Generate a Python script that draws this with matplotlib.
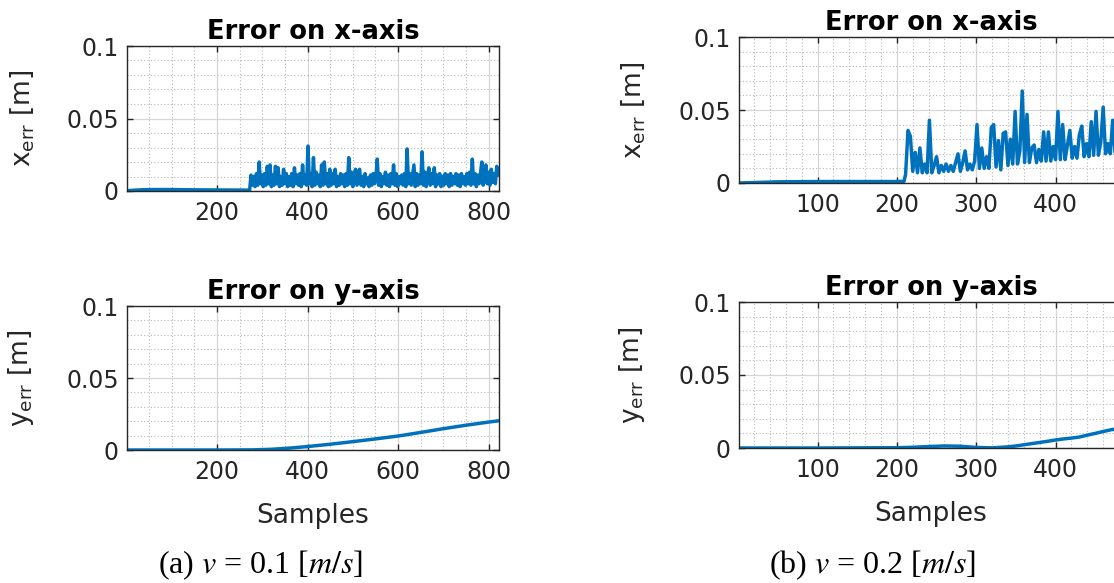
import numpy as np
import matplotlib
matplotlib.use("Agg")
import matplotlib.pyplot as plt
from matplotlib.ticker import MultipleLocator, FixedLocator

# ---------------- data ----------------
# (a) v = 0.1 m/s, 823 samples
a_pre_samples = [1, 30, 60, 100, 150, 200, 250, 272]
a_pre_xerr = [0.0002, 0.0008, 0.0010, 0.0010, 0.0008, 0.0007, 0.0006, 0.0006]
a_noise_start, a_noise_step = 275, 3
a_noise_xerr = [
    0.011, 0.004, 0.010, 0.003, 0.012, 0.004, 0.020, 0.005, 0.011, 0.003,
    0.012, 0.004, 0.017, 0.005, 0.018, 0.003, 0.011, 0.004, 0.017, 0.005,
    0.016, 0.003, 0.010, 0.004, 0.015, 0.005, 0.012, 0.003, 0.010, 0.004,
    0.012, 0.003, 0.016, 0.005, 0.011, 0.004, 0.012, 0.003, 0.018, 0.005,
    0.011, 0.004, 0.031, 0.005, 0.012, 0.003, 0.023, 0.004, 0.013, 0.005,
    0.011, 0.003, 0.018, 0.004, 0.020, 0.005, 0.012, 0.003, 0.015, 0.004,
    0.012, 0.005, 0.015, 0.003, 0.010, 0.004, 0.012, 0.005, 0.011, 0.003,
    0.012, 0.004, 0.023, 0.005, 0.013, 0.003, 0.011, 0.015, 0.004, 0.012,
    0.015, 0.004, 0.010, 0.003, 0.012, 0.005, 0.009, 0.003, 0.011, 0.004,
    0.012, 0.005, 0.010, 0.022, 0.004, 0.012, 0.003, 0.010, 0.005, 0.013,
    0.004, 0.011, 0.003, 0.012, 0.005, 0.018, 0.004, 0.012, 0.003, 0.010,
    0.005, 0.011, 0.004, 0.012, 0.003, 0.029, 0.005, 0.012, 0.004, 0.011,
    0.018, 0.003, 0.012, 0.004, 0.011, 0.005, 0.027, 0.004, 0.013, 0.003,
    0.011, 0.016, 0.004, 0.012, 0.005, 0.016, 0.003, 0.011, 0.005, 0.012,
    0.003, 0.010, 0.004, 0.012, 0.005, 0.011, 0.003, 0.012, 0.004, 0.010,
    0.005, 0.012, 0.004, 0.011, 0.003, 0.012, 0.005, 0.010, 0.004, 0.012,
    0.005, 0.013, 0.004, 0.022, 0.005, 0.012, 0.003, 0.011, 0.005, 0.012,
    0.020, 0.004, 0.012, 0.018, 0.005, 0.013, 0.004, 0.015, 0.006, 0.012,
    0.005, 0.017, 0.011,
]
a_yerr_samples = [1, 100, 200, 280, 320, 360, 400, 450, 500, 550, 600, 650, 700, 750, 800, 823]
a_yerr = [0.0, 0.0, 0.0, 0.0001, 0.0005, 0.0013, 0.0024, 0.0040, 0.0058, 0.0077,
          0.0097, 0.0122, 0.0148, 0.0172, 0.0194, 0.0203]
a_nsamples = 823

# (b) v = 0.2 m/s
b_pre_samples = [1, 20, 50, 100, 150, 200, 209]
b_pre_xerr = [0.0, 0.0003, 0.0008, 0.0010, 0.0010, 0.0010, 0.0012]
b_noise_start, b_noise_step = 211, 3
b_noise_xerr = [
    0.006, 0.036, 0.032, 0.008, 0.021, 0.007, 0.024, 0.007, 0.013, 0.007,
    0.043, 0.007, 0.012, 0.018, 0.007, 0.012, 0.008, 0.013, 0.008, 0.012,
    0.008, 0.014, 0.020, 0.008, 0.014, 0.022, 0.009, 0.013, 0.009, 0.015,
    0.040, 0.010, 0.024, 0.010, 0.018, 0.010, 0.038, 0.040, 0.011, 0.029,
    0.009, 0.034, 0.035, 0.012, 0.030, 0.013, 0.049, 0.013, 0.022, 0.063,
    0.014, 0.047, 0.014, 0.024, 0.026, 0.014, 0.023, 0.015, 0.035, 0.015,
    0.035, 0.015, 0.025, 0.016, 0.049, 0.016, 0.040, 0.016, 0.026, 0.036,
    0.017, 0.025, 0.017, 0.033, 0.039, 0.018, 0.027, 0.018, 0.042, 0.019,
    0.049, 0.019, 0.028, 0.052, 0.020, 0.027, 0.020, 0.043, 0.021, 0.035,
    0.021, 0.028, 0.022,
]
b_yerr_samples = [1, 100, 200, 220, 240, 260, 280, 300, 320, 340, 350, 360, 370, 380,
                  390, 400, 410, 420, 430, 440, 450, 460, 470, 480, 487]
b_yerr = [0.0, 0.0, 0.0002, 0.0005, 0.0010, 0.0014, 0.0012, 0.0004, 0.0001, 0.0008,
          0.0014, 0.0022, 0.0030, 0.0038, 0.0046, 0.0055, 0.0062, 0.0068, 0.0075,
          0.0088, 0.0100, 0.0113, 0.0125, 0.0133, 0.0140]
b_nsamples = 485

titles = ["Error on x-axis", "Error on y-axis"]
ylabels = [r"$\mathregular{x_{err}}$ [m]", r"$\mathregular{y_{err}}$ [m]"]
yticks = [0, 0.05, 0.1]
ytick_labels = ["0", "0.05", "0.1"]
a_xticks = [200, 400, 600, 800]
b_xticks = [100, 200, 300, 400, 500]
captions = [r"(a) $v$ = 0.1 [$m/s$]", r"(b) $v$ = 0.2 [$m/s$]"]

# ---------------- figure ----------------
W, H = 1114, 583
fig = plt.figure(figsize=(W / 100, H / 100), dpi=100)
plt.rcParams['font.family'] = ['DejaVu Sans']

LINE = '#0072BD'
EDGE = '#262626'
LW = 2.5


def px_axes(l, t, r, b):
    return fig.add_axes([l / W, 1 - b / H, (r - l) / W, (b - t) / H])


def build_x(pre_s, pre_v, start, step, vals):
    xs = list(pre_s) + [start + step * i for i in range(len(vals))]
    ys = list(pre_v) + list(vals)
    return np.array(xs), np.array(ys)


def style(ax, xmax, xticks, minor_x, title, ylabel, xlabel, label_x):
    ax.set_xlim(1, xmax)
    ax.set_ylim(0, 0.1)
    ax.xaxis.set_major_locator(FixedLocator(xticks))
    ax.xaxis.set_minor_locator(MultipleLocator(minor_x))
    ax.set_yticks(yticks)
    ax.set_yticklabels(ytick_labels)
    ax.yaxis.set_minor_locator(MultipleLocator(0.01))
    ax.grid(which='major', color='#d6d6d6', linewidth=0.9, linestyle='-')
    ax.grid(which='minor', color='#b8b8b8', linewidth=0.8, linestyle=(0, (1, 2)))
    ax.set_axisbelow(True)
    ax.tick_params(which='major', direction='in', length=4, width=1.0, color=EDGE,
                   top=True, right=True, labelsize=17, labelcolor=EDGE)
    ax.tick_params(axis='x', which='major', pad=7)
    ax.tick_params(axis='y', which='major', pad=6)
    ax.tick_params(which='minor', length=0, top=True, right=True)
    for s in ax.spines.values():
        s.set_color(EDGE)
        s.set_linewidth(1.0)
    ax.set_title(title, fontsize=18.5, fontweight='bold', pad=5, color='black')
    ax.set_ylabel(ylabel, fontsize=19, color=EDGE)
    ax.yaxis.set_label_coords(label_x, 0.5)
    if xlabel:
        ax.set_xlabel(xlabel, fontsize=19, color=EDGE, labelpad=14)


# (a)
ax1 = px_axes(127, 46, 499, 191)
xs, ys = build_x(a_pre_samples, a_pre_xerr, a_noise_start, a_noise_step, a_noise_xerr)
ax1.plot(xs, ys, color=LINE, linewidth=LW)
style(ax1, a_nsamples, a_xticks, 50, titles[0], ylabels[0], None, -0.245)

ax2 = px_axes(127, 306, 499, 450)
ax2.plot(a_yerr_samples, a_yerr, color=LINE, linewidth=LW)
style(ax2, a_nsamples, a_xticks, 50, titles[1], ylabels[1], "Samples", -0.245)

# (b) (axes extend past the right edge, as in the reference)
ax3 = px_axes(739, 37, 1123, 183)
xs, ys = build_x(b_pre_samples, b_pre_xerr, b_noise_start, b_noise_step, b_noise_xerr)
ax3.plot(xs, ys, color=LINE, linewidth=LW)
style(ax3, b_nsamples, b_xticks, 20, titles[0], ylabels[0], None, -0.24)

ax4 = px_axes(739, 302, 1123, 448)
ax4.plot(b_yerr_samples, b_yerr, color=LINE, linewidth=LW)
style(ax4, b_nsamples, b_xticks, 20, titles[1], ylabels[1], "Samples", -0.24)

# captions
fig.text(261 / W, 1 - 565 / H, captions[0], ha='center', va='center', fontsize=23,
         family=['Liberation Serif'], math_fontfamily='stix')
fig.text(872 / W, 1 - 565 / H, captions[1], ha='center', va='center', fontsize=23,
         family=['Liberation Serif'], math_fontfamily='stix')

fig.savefig("out.png", dpi=100)
